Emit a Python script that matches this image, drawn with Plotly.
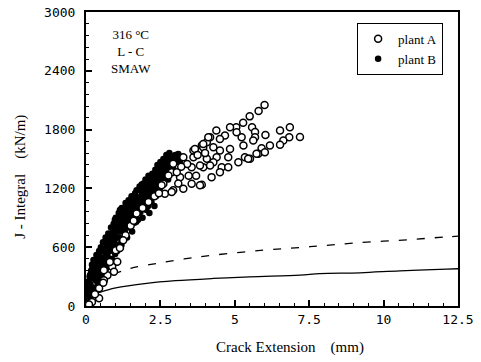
import plotly.graph_objects as go

# ---- data ----
plant_a_x = [6.00, 5.80, 5.50, 5.28, 5.05, 4.84, 4.38, 5.58, 5.68, 6.03, 6.52, 6.85, 7.19, 6.83, 6.63,
             6.52, 6.18, 5.90, 5.68, 5.62, 5.29, 5.23, 5.06, 4.67, 4.50, 4.17, 4.06, 3.89, 4.84, 4.78,
             4.50, 4.39, 4.28, 4.06, 3.94, 4.56, 4.78, 5.12, 5.34, 5.51, 5.79, 6.01, 4.22, 4.50, 3.89,
             3.83, 3.55, 3.27, 2.93, 2.65, 2.88, 2.93, 3.27, 3.61, 4.17, 3.83, 3.55, 5.45, 5.73, 3.94,
             3.61, 4.28, 3.16, 2.60, 3.05, 2.77, 2.88, 2.54, 3.66, 3.94, 4.11, 3.40, 3.70, 3.20, 3.45,
             4.00, 3.75, 3.10,
             1.33, 1.00, 1.05, 0.88, 0.94, 0.72, 0.60, 0.44, 0.44, 0.60, 1.14, 1.25, 1.70, 0.58, 0.30,
             0.20, 0.10, 1.50, 1.90, 2.10, 2.30, 2.45, 0.80, 1.60]
plant_a_j = [2050, 1990, 1935, 1870, 1825, 1825, 1790, 1825, 1775, 1745, 1790, 1825, 1725, 1722, 1688,
             1645, 1638, 1610, 1722, 1688, 1637, 1722, 1773, 1739, 1705, 1722, 1671, 1637, 1603, 1518,
             1586, 1518, 1467, 1502, 1416, 1416, 1416, 1467, 1518, 1502, 1553, 1569, 1315, 1366, 1238,
             1231, 1248, 1197, 1180, 1146, 1366, 1451, 1518, 1518, 1434, 1434, 1416, 1502, 1553, 1620,
             1586, 1620, 1315, 1248, 1366, 1332, 1163, 1231, 1603, 1654, 1722, 1450, 1330, 1420, 1330,
             1560, 1540, 1250,
             722, 570, 451, 400, 349, 315, 264, 180, 78, 366, 593, 671, 943, 237, 120,
             40, 15, 820, 1000, 1060, 1120, 1150, 450, 870]

plant_b_x = [0.02, 0.04, 0.05, 0.07, 0.08, 0.10, 0.12, 0.13,
             0.15, 0.17, 0.18, 0.20, 0.22, 0.24, 0.25, 0.27,
             0.30, 0.32, 0.33, 0.35, 0.37, 0.40, 0.42, 0.44,
             0.46, 0.48, 0.50, 0.52, 0.55, 0.57, 0.60, 0.62,
             0.64, 0.66, 0.68, 0.70, 0.72, 0.75, 0.77, 0.80,
             0.82, 0.84, 0.86, 0.88, 0.90, 0.93, 0.95, 0.98,
             1.00, 1.02, 1.05, 1.07, 1.10, 1.12, 1.15, 1.18,
             1.20, 1.22, 1.25, 1.28, 1.30, 1.33, 1.35, 1.38,
             1.40, 1.43, 1.45, 1.48, 1.50, 1.53, 1.55, 1.58,
             1.60, 1.63, 1.65, 1.68, 1.70, 1.73, 1.75, 1.78,
             1.80, 1.83, 1.85, 1.88, 1.90, 1.93, 1.95, 1.98,
             2.00, 2.03, 2.05, 2.08, 2.10, 2.13, 2.15, 2.18,
             2.20, 2.23, 2.25, 2.28, 2.30, 2.33, 2.35, 2.38,
             2.40, 2.43, 2.45, 2.48, 2.50, 2.53, 2.55, 2.58,
             2.60, 2.63, 2.65, 2.68, 2.70, 2.73, 2.75, 2.78,
             2.80, 2.83, 2.86, 2.90, 2.93, 2.97, 3.00, 3.05, 3.10, 3.15, 3.20,
             0.06, 0.11, 0.19, 0.26, 0.34, 0.41, 0.49, 0.56, 0.63, 0.71, 0.78, 0.85,
             0.92, 0.99, 1.06, 1.13, 1.21, 1.29, 1.36, 1.44, 1.52, 1.59, 1.67, 1.74,
             1.82, 1.89, 1.97, 2.04, 2.12, 2.19, 2.27, 2.34, 2.42, 2.49, 2.57, 2.64,
             2.72, 2.79, 0.16, 0.38, 0.53, 0.69, 0.83, 0.96, 1.09, 1.24, 1.39, 1.56,
             1.71, 1.86, 2.01, 2.16, 2.31, 2.46, 2.61, 2.76,
             0.03, 0.09, 0.14, 0.21, 0.23, 0.28, 0.31, 0.36, 0.39, 0.43, 0.45, 0.51,
             0.54, 0.58, 0.61, 0.65, 0.67, 0.73, 0.76, 0.79, 0.81, 0.87, 0.89, 0.91,
             0.94, 0.97, 1.01, 1.04, 1.08, 1.11, 1.14, 1.17, 1.19, 1.23, 1.26, 1.31,
             1.34, 1.37, 1.42, 1.46, 1.49, 1.54, 1.57, 1.62, 1.66, 1.69, 1.72, 1.77,
             1.81, 1.84, 1.87, 1.92, 1.96, 1.99, 2.02, 2.06, 2.09, 2.14, 2.17, 2.21,
             2.24, 2.29, 2.32, 2.36, 2.39, 2.44, 2.47, 2.52, 2.56, 2.59, 2.62, 2.66,
             2.69, 2.74, 2.77, 2.82, 2.88, 2.95, 3.02, 3.08]
plant_b_j = [30, 110, 190, 60, 250, 160, 300, 90,
             220, 360, 140, 420, 280, 190, 470, 350,
             150, 410, 260, 520, 330, 230, 470, 560,
             300, 390, 600, 270, 480, 650, 350, 560,
             440, 700, 320, 610, 520, 740, 400, 660,
             480, 800, 570, 720, 430, 840, 640, 530,
             900, 700, 560, 820, 950, 630, 760, 880,
             1000, 690, 830, 940, 760, 1050, 880, 700,
             960, 1080, 800, 1010, 900, 1120, 760, 980,
             1060, 850, 1150, 940, 1180, 1020, 880, 1110,
             1220, 960, 1060, 1160, 900, 1250, 1020, 1130,
             1290, 980, 1200, 1080, 1330, 950, 1160, 1250,
             1060, 1350, 1180, 1280, 1020, 1390, 1120, 1230,
             1440, 1280, 1330, 1200, 1470, 1300, 1380, 1260,
             1500, 1330, 1420, 1310, 1540, 1400, 1460, 1360,
             1560, 1420, 1480, 1530, 1400, 1460, 1540, 1500, 1550, 1470, 1520,
             70, 220, 300, 400, 360, 520, 460, 390, 500, 460, 580, 650,
             740, 790, 700, 860, 900, 860, 980, 900, 1020, 940, 1060, 1000,
             1100, 1060, 1160, 1130, 1220, 1180, 1300, 1260, 1360, 1320, 1420, 1380,
             1400, 1460, 300, 310, 400, 520, 620, 690, 870, 880, 840, 1060,
             960, 1200, 1050, 1100, 1210, 1290, 1350, 1290,
             150, 240, 320, 380, 120, 440, 300, 460, 380, 330, 520, 440,
             560, 300, 470, 580, 380, 660, 470, 560, 700, 480, 640, 760,
             560, 880, 620, 760, 900, 700, 980, 800, 620, 920, 760, 1000,
             820, 940, 880, 1040, 960, 1060, 860, 1000, 1100, 860, 1080, 980,
             1180, 1040, 1240, 1100, 1200, 1060, 1240, 1130, 1020, 1290, 1100, 1200,
             1300, 1150, 1340, 1260, 1180, 1400, 1280, 1360, 1320, 1450, 1330, 1370,
             1480, 1400, 1520, 1440, 1500, 1510, 1470, 1520]

solid_x = [0.41, 1.0, 2.04, 3.0, 4.28, 5.5, 7.19, 7.86, 9.21, 10.55, 12.12, 12.5]
solid_j = [135, 185, 231, 258, 281, 298, 315, 330, 339, 359, 376, 380]

dash_x = [0.92, 1.5, 2.37, 3.3, 4.28, 5.96, 7.19, 7.86, 9.09, 10.89, 12.12, 12.5]
dash_j = [325, 385, 434, 480, 519, 570, 597, 613, 644, 678, 705, 712]

x_ticks = [0, 2.5, 5, 7.5, 10, 12.5]
x_tick_text = ["0", "2.5", "5", "7.5", "10", "12.5"]
y_ticks = [0, 600, 1200, 1800, 2400, 3000]
y_tick_text = ["0", "600", "1200", "1800", "2400", "3000"]

serif = "Liberation Serif"
mono = "DejaVu Sans Mono"

fig = go.Figure()
fig.add_trace(go.Scatter(x=solid_x, y=solid_j, mode="lines", showlegend=False,
                         line=dict(color="black", width=1.3, shape="spline")))
fig.add_trace(go.Scatter(x=dash_x, y=dash_j, mode="lines", showlegend=False,
                         line=dict(color="black", width=1.3, dash="8px,10px", shape="spline")))
fig.add_trace(go.Scatter(x=plant_b_x, y=plant_b_j, mode="markers", name="plant B",
                         marker=dict(symbol="circle", size=6.5, color="black")))
fig.add_trace(go.Scatter(x=plant_a_x, y=plant_a_j, mode="markers", name="plant A",
                         marker=dict(symbol="circle", size=7, color="white",
                                     line=dict(color="black", width=1.5))))

fig.update_layout(
    width=481, height=362,
    margin=dict(l=86, r=23, t=12, b=56),
    paper_bgcolor="white", plot_bgcolor="white",
    showlegend=True,
    legend=dict(x=0.96, y=0.963, xanchor="right", yanchor="top",
                bordercolor="black", borderwidth=1, bgcolor="white",
                font=dict(family=serif, size=13, color="black"),
                traceorder="reversed", itemwidth=30, tracegroupgap=0),
    font=dict(family=serif, color="black"),
)
fig.update_xaxes(range=[0, 12.5], tickvals=x_ticks, ticktext=x_tick_text, automargin=False,
                 ticks="inside", ticklen=6, tickwidth=1.5, tickcolor="black",
                 minor=dict(dtick=0.5, ticks="inside", ticklen=3, tickcolor="black", tickwidth=1),
                 showline=True, linecolor="black", linewidth=2, mirror=True,
                 showgrid=False, zeroline=False,
                 tickfont=dict(family=mono, size=13, color="black"))
fig.update_yaxes(range=[0, 3000], tickvals=y_ticks, ticktext=y_tick_text, automargin=False,
                 ticks="inside", ticklen=6, tickwidth=1.5, tickcolor="black",
                 minor=dict(dtick=120, ticks="inside", ticklen=3, tickcolor="black", tickwidth=1),
                 showline=True, linecolor="black", linewidth=2, mirror=True,
                 showgrid=False, zeroline=False,
                 tickfont=dict(family=mono, size=13, color="black"), ticklabelstandoff=6)

fig.add_annotation(text="316 °C<br>L - C<br>SMAW", xref="paper", yref="paper",
                   x=0.12, y=0.955, xanchor="center", yanchor="top", showarrow=False,
                   font=dict(family=serif, size=13, color="black"))
fig.add_annotation(text="Crack Extension&nbsp;&nbsp;&nbsp;&nbsp;(mm)", xref="paper", yref="paper",
                   x=0.548, y=-0.14, xanchor="center", yanchor="middle", showarrow=False,
                   font=dict(family=serif, size=15, color="black"))
fig.add_annotation(text="J - Integral&nbsp;&nbsp;&nbsp;&nbsp;(kN/m)", xref="paper", yref="paper",
                   x=-0.177, y=0.44, xanchor="center", yanchor="middle", showarrow=False,
                   textangle=-90, font=dict(family=serif, size=15, color="black"))

fig.write_html("out.html", config={"displayModeBar": False},
               post_script="document.body.style.margin='0';document.body.style.padding='0';")
